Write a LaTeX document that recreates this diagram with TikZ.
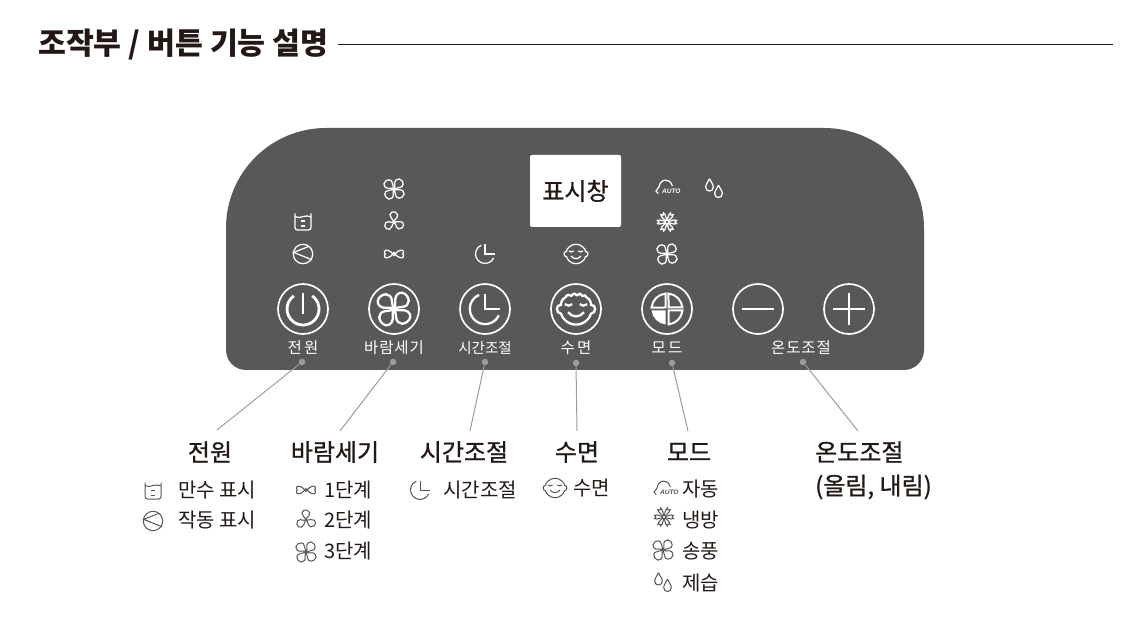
\documentclass[tikz,border=0pt]{standalone}
\usepackage{xcolor}
\usepackage{fontspec}
\setmainfont{Noto Sans CJK KR}
\newfontfamily\krmed[FakeBold=1]{Noto Sans CJK KR}
\newfontfamily\krwide[LetterSpace=6]{Noto Sans CJK KR}
\newfontfamily\krwider[LetterSpace=16]{Noto Sans CJK KR}
\newfontfamily\autofont{Liberation Sans}
\usepackage{tikz}
\usetikzlibrary{positioning}
\definecolor{vpanel}{HTML}{58585A}
\definecolor{vink}{HTML}{231815}
\definecolor{vlead}{HTML}{9C9C9C}
\definecolor{vicon}{HTML}{555555}
\newcommand{\fanpetal}{(0.9,0.35) .. controls (3,0.8) and (4.5,4.8) .. (7.5,5) .. controls (10.5,5.2) and (12,2.5) .. (11.5,0) .. controls (11,-2.5) and (9.5,-4) .. (7.5,-4) .. controls (5,-4) and (3,-0.8) .. (0.9,-0.35)}
\newcommand{\wedgepetal}{(1,0.4) .. controls (3,1.5) and (5,4.5) .. (7.5,4) .. controls (10,3.5) and (10.5,1) .. (10,-1) .. controls (9,-3.8) and (6,-4.5) .. (4.5,-3) .. controls (3,-1.5) and (2,-0.5) .. (1,-0.4)}
\tikzset{
  panelicon/.style={color=white,every path/.style={line width=1.25pt}},
  bigicon/.style={color=white,scale=1.6,every path/.style={line width=2.3pt}},
  legicon/.style={color=vicon,every path/.style={line width=1pt}},
  btn/.style={circle,draw=white,line width=1.7pt,minimum size=50pt,inner sep=0pt},
  dark/.style={text=white,inner sep=0pt},
  wide/.style={dark,font=\krwide\fontsize{15.5}{18}\selectfont},
  wider/.style={dark,font=\krwider\fontsize{15.5}{18}\selectfont},
  head/.style={text=vink,inner sep=0pt,font=\krmed\fontsize{24}{28}\selectfont},
  item/.style={text=vink,inner sep=0pt,anchor=west,font=\fontsize{20}{23}\selectfont},
  dotpt/.style={circle,fill=vlead,inner sep=0pt,minimum size=6.5pt},
  lead/.style={draw=vlead,line width=1pt},
  fan/.pic={\foreach \a in {45,135,225,315} \draw[rotate=\a] \fanpetal; \draw (0,0) circle (0.7);},
  fanthree/.pic={\foreach \a in {90,210,330} \draw[rotate=\a] \wedgepetal; \draw (0,0) circle (0.7);},
  fanbow/.pic={\draw (0,0) circle (1.4);
    \foreach \a in {0,180} \draw[rotate=\a] (1.4,0.3) .. controls (3.5,3.5) and (8.5,5) .. (9.5,2.8) .. controls (10.2,1.2) and (8.8,0.8) .. (8.6,0) .. controls (8.8,-0.8) and (10.2,-1.2) .. (9.5,-2.8) .. controls (8.5,-5) and (3.5,-3.5) .. (1.4,-0.3);},
  flake/.pic={\foreach \a in {0,60,120,180,240,300} \draw[rotate=\a] (1,0.5) -- (7,2) -- (9.5,1.6) -- (8,0) -- (9.5,-1.6) -- (7,-2) -- (1,-0.5);},
  drop/.pic={\draw (0,6.3) .. controls (-1,3.5) and (-3.8,0.8) .. (-3.8,-2) .. controls (-3.8,-4.6) and (-2,-6) .. (0,-6) .. controls (2,-6) and (3.8,-4.6) .. (3.8,-2) .. controls (3.8,0.8) and (1,3.5) .. (0,6.3);},
  drops/.pic={\pic at (-4.5,3) {drop}; \pic at (4.5,-3.5) {drop};},
  autoicon/.pic={\draw (-9.7,-6.7) -- (-12,-4) -- (-9,0) .. controls (-8,8) and (2,10) .. (4.3,1);
    \node[inner sep=0pt,font=\autofont\itshape\bfseries\fontsize{6.5}{7}\selectfont] (txt) at (3.3,-4) {AUTO};},
  tank/.pic={\draw[rounded corners=2.5pt] (-8,8.5) -- (-8,-8) -- (8,-8) -- (8,8.5);
    \draw (-8,5.5) .. controls (-4,4) and (-2,4.5) .. (0,5.5) .. controls (3,6.5) and (6,6) .. (8,5);
    \draw[line width=1.6pt] (-1.8,0.7) -- (1.8,0.7); \draw[line width=1.6pt] (-1.8,-4.3) -- (1.8,-4.3);},
  oper/.pic={\draw (0,0) circle (9.7); \draw (6,7.7) -- (-9.3,1.6) -- (9,-5.8);},
  clockicon/.pic={\draw (0,9.5) -- (0,0) -- (9.5,0);
    \draw (-3.7,8.8) arc[start angle=113,end angle=335,radius=9.5];},
  facebase/.pic={\draw (-6.8,-7) arc[start angle=226,end angle=314,radius=9.8];
    \draw (-6.8,7) .. controls (-9,6.5) and (-9.5,3) .. (-9.5,2.5) .. controls (-12.5,3) and (-13,-2.5) .. (-9.3,-3) .. controls (-9,-4.5) and (-8,-6) .. (-6.8,-7);
    \draw (6.8,7) .. controls (9,6.5) and (9.5,3) .. (9.5,2.5) .. controls (12.5,3) and (13,-2.5) .. (9.3,-3) .. controls (9,-4.5) and (8,-6) .. (6.8,-7);
    \draw (-7,3) .. controls (-5.8,1.8) and (-3.5,1.8) .. (-2.3,3);
    \draw (2.3,3) .. controls (3.5,1.8) and (5.8,1.8) .. (7,3);
    \draw (-5,-2) .. controls (-2.5,-5.5) and (2.5,-5.5) .. (5,-2);},
  facetop/.pic={\draw (6.8,7) arc[start angle=46,end angle=134,radius=9.8];},
  hair/.pic={\draw (-6.8,7) .. controls (-6,9) and (-4,9.5) .. (-2.8,8.2) .. controls (-2,10) and (0,10) .. (0.6,8.6) .. controls (1.5,10) and (3.5,9.8) .. (4,8.2) .. controls (5,9) and (6.3,8.5) .. (6.8,7);},
  powericon/.pic={\draw (0,16) -- (0,-5); \draw (9.2,13.1) arc[start angle=55,end angle=-235,radius=16];},
  quad/.pic={\draw (1.5,1.5) -- (15.4,1.5) arc[start angle=5.6,end angle=84.4,radius=15.5] -- cycle;},
  modeicon/.pic={\pic {quad}; \pic[rotate=90] {quad}; \pic[rotate=270] {quad};
    \fill[rotate=180] (1.5,1.5) -- (15.4,1.5) arc[start angle=5.6,end angle=84.4,radius=15.5] -- cycle;},
}
\begin{document}
\begin{tikzpicture}[x=1pt,y=1pt]
\useasboundingbox (0,0) rectangle (1141,622);
% title
\node[inner sep=0pt,anchor=west,text=vink,font=\bfseries\fontsize{30.3}{33}\selectfont] (title) at (38,578) {조작부 / 버튼 기능 설명};
\coordinate (rulestart) at (338,578);
\coordinate (ruleend) at (1113,578);
\draw[line width=0.8pt,draw=vink] (rulestart) -- (ruleend);
% panel
\fill[vpanel] (226,272) -- (226,394) arc[start angle=180,end angle=90,radius=100] -- (824,494) arc[start angle=90,end angle=0,radius=100] -- (924,272) arc[start angle=0,end angle=-90,radius=20] -- (246,252) arc[start angle=270,end angle=180,radius=20] -- cycle;
\node[fill=white,rounded corners=2pt,minimum width=91pt,minimum height=72pt,inner sep=0pt,text=vink,font=\krmed\fontsize{24}{28}\selectfont] (disp) at (575.5,431) {표시창};
% small icons
\pic[panelicon] at (303,400) {tank};
\pic[panelicon] at (303,368) {oper};
\pic[panelicon] at (394,433) {fan};
\pic[panelicon] at (394,400) {fanthree};
\pic[panelicon] at (394,368) {fanbow};
\pic[panelicon] at (485,368) {clockicon};
\pic[panelicon] at (576,368) {facebase};
\pic[panelicon] at (576,368) {facetop};
\pic[panelicon] at (668,435) {autoicon};
\pic[panelicon] at (667,400) {flake};
\pic[panelicon] at (667,368) {fan};
\pic[panelicon] at (714,434) {drops};
% buttons
\node[btn] (bpower) at (303,313) {};
\node[btn] (bfan) at (394,313) {};
\node[btn] (bclock) at (485,313) {};
\node[btn] (bsleep) at (576,313) {};
\node[btn] (bmode) at (667,313) {};
\node[btn] (bminus) at (758,313) {};
\node[btn] (bplus) at (849,313) {};
\pic[color=white,every path/.style={line width=2.8pt}] at (bpower) {powericon};
\pic[bigicon] at (bfan) {fan};
\pic[bigicon] at (bclock) {clockicon};
\pic[bigicon] at (bsleep) {facebase};
\pic[bigicon] at (bsleep) {hair};
\pic[color=white,every path/.style={line width=2pt}] at (bmode) {modeicon};
\draw[white,line width=2.4pt] ([xshift=-16pt]bminus.center) -- ([xshift=16pt]bminus.center);
\draw[white,line width=2.4pt] ([xshift=-16pt]bplus.center) -- ([xshift=16pt]bplus.center);
\draw[white,line width=2.4pt] ([yshift=-16pt]bplus.center) -- ([yshift=16pt]bplus.center);
% button labels
\node[wider] (lpower) at (303,274) {전원};
\node[wide] (lfan) at (394,274) {바람세기};
\node[dark,font=\fontsize{14.5}{17}\selectfont] (lclock) at (485,274) {시간조절};
\node[wider] (lsleep) at (576,274) {수면};
\node[wider] (lmode) at (667,274) {모드};
\node[wide] (ltemp) at (801,274) {온도조절};
% leaders
\node[dotpt] (dpower) at (302,260) {};
\node[dotpt] (dfan) at (393,260) {};
\node[dotpt] (dclock) at (485,260) {};
\node[dotpt] (dsleep) at (576,259) {};
\node[dotpt] (dmode) at (672,259) {};
\node[dotpt] (dtemp) at (803,260) {};
\coordinate (epower) at (217,192);
\coordinate (efan) at (340,191);
\coordinate (eclock) at (470,191);
\coordinate (esleep) at (577,191);
\coordinate (emode) at (688,191);
\coordinate (etemp) at (858,191);
\draw[lead] (dpower) -- (epower); \draw[lead] (dfan) -- (efan); \draw[lead] (dclock) -- (eclock);
\draw[lead] (dsleep) -- (esleep); \draw[lead] (dmode) -- (emode); \draw[lead] (dtemp) -- (etemp);
% headings
\node[head] (hpower) at (210,170) {전원};
\node[head] (hfan) at (335,170) {바람세기};
\node[head] (hclock) at (464,170) {시간조절};
\node[head] (hsleep) at (577,170) {수면};
\node[head] (hmode) at (689,170) {모드};
\node[head,anchor=west] (htemp) at (815,170) {온도조절};
\node[head,anchor=west] (htemptwo) at (815,135) {(올림, 내림)};
% legend
\pic[legicon] at (153,131) {tank};
\pic[legicon] at (153,101) {oper};
\node[item] (ifull) at (178,132) {만수 표시};
\node[item] (irun) at (178,102) {작동 표시};
\pic[legicon] at (306,132) {fanbow};
\pic[legicon] at (306,102) {fanthree};
\pic[legicon] at (306,70) {fan};
\node[item] (ione) at (324,132) {1단계};
\node[item] (itwo) at (324,102) {2단계};
\node[item] (ithree) at (324,71) {3단계};
\pic[legicon] at (420,132) {clockicon};
\node[item] (itimer) at (443,132) {시간조절};
\pic[legicon] at (555,134) {facebase};
\pic[legicon] at (555,134) {facetop};
\node[item] (isleep) at (573,134) {수면};
\pic[legicon] at (666,134) {autoicon};
\pic[legicon] at (664,105) {flake};
\pic[legicon] at (663,72) {fan};
\pic[legicon] at (663,40) {drops};
\node[item] (iauto) at (682,133) {자동};
\node[item] (icool) at (682,102) {냉방};
\node[item] (iblow) at (682,71) {송풍};
\node[item] (idry) at (682,39) {제습};
\end{tikzpicture}
\end{document}
